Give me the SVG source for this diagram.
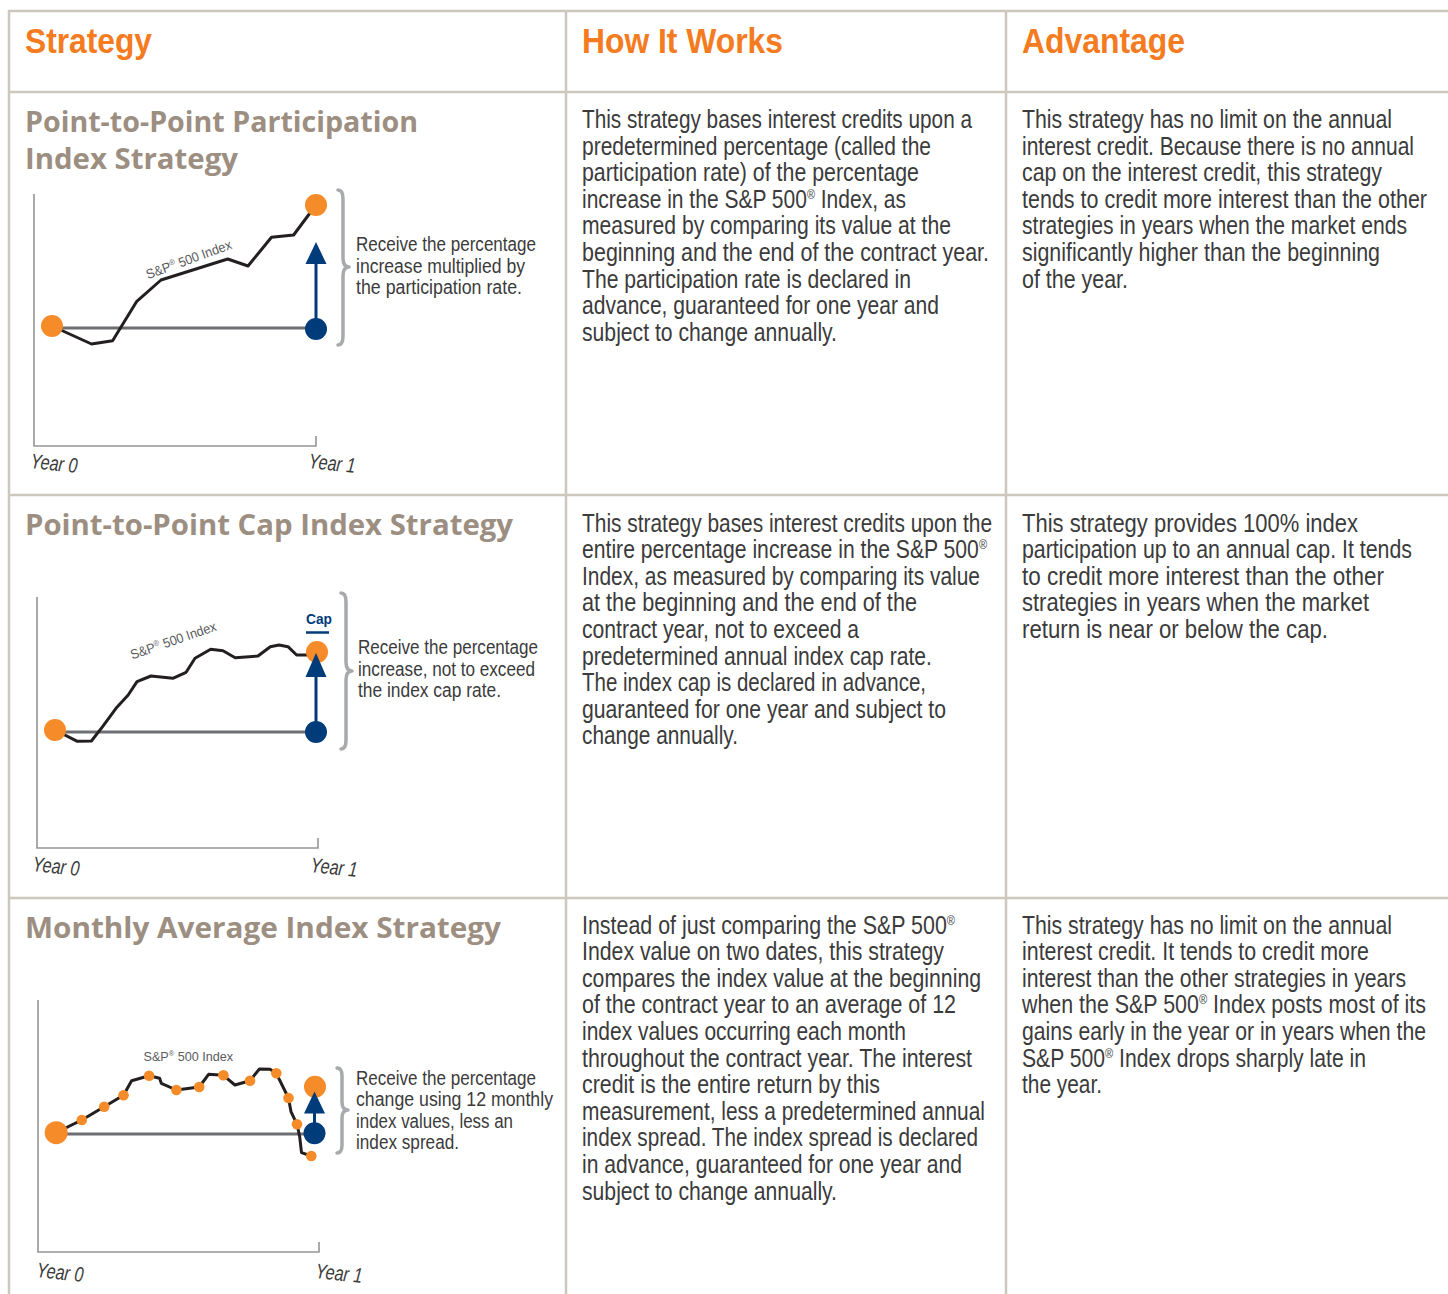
<svg xmlns="http://www.w3.org/2000/svg" width="1448" height="1294" viewBox="0 0 1448 1294">
<style>
.grid{stroke:#cec7bd;stroke-width:2.5;fill:none}
.hdr{font-family:"Liberation Sans",Arial,sans-serif;font-weight:bold;font-size:35px;fill:#f47b20}
.ttl{font-family:"Open Sans","Liberation Sans",sans-serif;font-weight:bold;font-size:28px;fill:#9c8e81}
.body{font-family:"Liberation Sans Narrow","Liberation Sans",Arial,sans-serif;font-size:25px;fill:#3b3b3b}
.note{font-family:"Liberation Sans Narrow","Liberation Sans",Arial,sans-serif;font-size:19.5px;fill:#3b3b3b}
.yr{font-family:"Liberation Sans Narrow","Liberation Sans",Arial,sans-serif;font-style:italic;font-size:21px;fill:#3b3b3b}
.sp{font-family:"Liberation Sans Narrow","Liberation Sans",Arial,sans-serif;font-size:13.5px;fill:#5a5b5d}
.cap{font-family:"Liberation Sans",Arial,sans-serif;font-weight:bold;font-size:15px;fill:#003b7a}
.axis{stroke:#939598;stroke-width:1.6;fill:none}
.base{stroke:#6d6e71;stroke-width:3;fill:none}
.idx{stroke:#231f20;stroke-width:3;fill:none;stroke-linejoin:round;stroke-linecap:round}
.brace{stroke:#a7a9ac;stroke-width:3.5;fill:none;stroke-linecap:round;stroke-linejoin:round}
.org{fill:#f68b29}
.blu{fill:#003b7a}
.arr{stroke:#003b7a;stroke-width:3;fill:none}
</style>

<g id="grid">
<line class="grid" x1="8" y1="11" x2="1448" y2="11"/>
<line class="grid" x1="8" y1="92" x2="1448" y2="92"/>
<line class="grid" x1="8" y1="495" x2="1448" y2="495"/>
<line class="grid" x1="8" y1="898" x2="1448" y2="898"/>
<line class="grid" x1="9" y1="10" x2="9" y2="1294"/>
<line class="grid" x1="566" y1="10" x2="566" y2="1294"/>
<line class="grid" x1="1006" y1="10" x2="1006" y2="1294"/>
</g>

<g id="header">
<text class="hdr" x="25" y="53" textLength="127" lengthAdjust="spacingAndGlyphs">Strategy</text>
<text class="hdr" x="582" y="53" textLength="201" lengthAdjust="spacingAndGlyphs">How It Works</text>
<text class="hdr" x="1022" y="53" textLength="163" lengthAdjust="spacingAndGlyphs">Advantage</text>
</g>

<g id="row1-strategy">
<text class="ttl" x="25" y="132" textLength="393" lengthAdjust="spacingAndGlyphs">Point-to-Point Participation</text>
<text class="ttl" x="25" y="169" textLength="213" lengthAdjust="spacingAndGlyphs">Index Strategy</text>
<path class="axis" d="M34,194 V446 H316 V436"/>
<line class="base" x1="52" y1="328" x2="316" y2="328"/>
<polyline class="idx" points="52,326 91.5,344 112.6,340.7 136.5,301.7 161,280 227.7,259 248,266 271.5,237.3 293.6,235 310,213"/>
<circle class="org" cx="52" cy="326" r="11"/>
<circle class="blu" cx="316" cy="329" r="11"/>
<circle class="org" cx="316" cy="205" r="11"/>
<line class="arr" x1="316" y1="329" x2="316" y2="262"/>
<polygon class="blu" points="316,242 305.5,264 326.5,264"/>
<text class="sp" x="189" y="264" text-anchor="middle" transform="rotate(-20 189 260)" textLength="90" lengthAdjust="spacingAndGlyphs">S&amp;P<tspan dy="-5" font-size="8">®</tspan><tspan dy="5"> 500 Index</tspan></text>
<path class="brace" d="M338,190 Q343,190 343,199 L343,258 Q343,267 349,267 Q343,267 343,276 L343,336 Q343,345 338,345"/>
<text class="note" x="356" y="251" textLength="180" lengthAdjust="spacingAndGlyphs">Receive the percentage</text>
<text class="note" x="356" y="273" textLength="169" lengthAdjust="spacingAndGlyphs">increase multiplied by</text>
<text class="note" x="356" y="294" textLength="166" lengthAdjust="spacingAndGlyphs">the participation rate.</text>
<text class="yr" x="30" y="468" transform="rotate(6 30 468)" textLength="47" lengthAdjust="spacingAndGlyphs">Year 0</text>
<text class="yr" x="308" y="468" transform="rotate(6 308 468)" textLength="47" lengthAdjust="spacingAndGlyphs">Year 1</text>
</g>

<g id="row1-how">
<text class="body" x="582" y="128" textLength="390" lengthAdjust="spacingAndGlyphs">This strategy bases interest credits upon a</text>
<text class="body" x="582" y="154.6" textLength="349" lengthAdjust="spacingAndGlyphs">predetermined percentage (called the</text>
<text class="body" x="582" y="181.2" textLength="337" lengthAdjust="spacingAndGlyphs">participation rate) of the percentage</text>
<text class="body" x="582" y="207.8" textLength="324" lengthAdjust="spacingAndGlyphs">increase in the S&amp;P 500<tspan dy="-9" font-size="13">®</tspan><tspan dy="9"> Index, as</tspan></text>
<text class="body" x="582" y="234.4" textLength="369" lengthAdjust="spacingAndGlyphs">measured by comparing its value at the</text>
<text class="body" x="582" y="261" textLength="407" lengthAdjust="spacingAndGlyphs">beginning and the end of the contract year.</text>
<text class="body" x="582" y="287.6" textLength="329" lengthAdjust="spacingAndGlyphs">The participation rate is declared in</text>
<text class="body" x="582" y="314.2" textLength="357" lengthAdjust="spacingAndGlyphs">advance, guaranteed for one year and</text>
<text class="body" x="582" y="340.8" textLength="255" lengthAdjust="spacingAndGlyphs">subject to change annually.</text>
</g>

<g id="row1-advantage">
<text class="body" x="1022" y="128" textLength="370" lengthAdjust="spacingAndGlyphs">This strategy has no limit on the annual</text>
<text class="body" x="1022" y="154.6" textLength="392" lengthAdjust="spacingAndGlyphs">interest credit. Because there is no annual</text>
<text class="body" x="1022" y="181.2" textLength="360" lengthAdjust="spacingAndGlyphs">cap on the interest credit, this strategy</text>
<text class="body" x="1022" y="207.8" textLength="405" lengthAdjust="spacingAndGlyphs">tends to credit more interest than the other</text>
<text class="body" x="1022" y="234.4" textLength="385" lengthAdjust="spacingAndGlyphs">strategies in years when the market ends</text>
<text class="body" x="1022" y="261" textLength="358" lengthAdjust="spacingAndGlyphs">significantly higher than the beginning</text>
<text class="body" x="1022" y="287.6" textLength="106" lengthAdjust="spacingAndGlyphs">of the year.</text>
</g>

<g id="row2-strategy">
<text class="ttl" x="25" y="535" textLength="488" lengthAdjust="spacingAndGlyphs">Point-to-Point Cap Index Strategy</text>
<path class="axis" d="M37,597 V848 H318 V838"/>
<line class="base" x1="55" y1="732" x2="316" y2="732"/>
<polyline class="idx" points="55,730 77.4,741.3 91.4,741 102.6,726.7 116,708.3 128.2,695 137,681.7 151,676 172.8,678.3 186.1,672.3 195,658.3 210.7,649.3 223,650.7 235.2,657.7 258,656 270.3,646.7 279,645 288,646.7 296.6,655 307.2,655"/>
<circle class="org" cx="55" cy="730" r="11"/>
<circle class="blu" cx="316" cy="732" r="11"/>
<circle class="org" cx="317" cy="652" r="11"/>
<line class="arr" x1="316" y1="732" x2="316" y2="675"/>
<polygon class="blu" points="316,653 305.5,677 326.5,677"/>
<text class="cap" x="319" y="624" text-anchor="middle" textLength="26" lengthAdjust="spacingAndGlyphs">Cap</text>
<line x1="306" y1="632.5" x2="329" y2="632.5" stroke="#003b7a" stroke-width="2.5"/>
<text class="sp" x="173.5" y="645" text-anchor="middle" transform="rotate(-19 173.5 641)" textLength="90" lengthAdjust="spacingAndGlyphs">S&amp;P<tspan dy="-5" font-size="8">®</tspan><tspan dy="5"> 500 Index</tspan></text>
<path class="brace" d="M341,593 Q346,593 346,602 L346,662 Q346,671 352,671 Q346,671 346,680 L346,740 Q346,749 341,749"/>
<text class="note" x="358" y="654" textLength="180" lengthAdjust="spacingAndGlyphs">Receive the percentage</text>
<text class="note" x="358" y="676" textLength="177" lengthAdjust="spacingAndGlyphs">increase, not to exceed</text>
<text class="note" x="358" y="697" textLength="143" lengthAdjust="spacingAndGlyphs">the index cap rate.</text>
<text class="yr" x="32" y="871" transform="rotate(6 32 871)" textLength="47" lengthAdjust="spacingAndGlyphs">Year 0</text>
<text class="yr" x="310" y="872" transform="rotate(6 310 872)" textLength="47" lengthAdjust="spacingAndGlyphs">Year 1</text>
</g>

<g id="row2-how">
<text class="body" x="582" y="531.5" textLength="410" lengthAdjust="spacingAndGlyphs">This strategy bases interest credits upon the</text>
<text class="body" x="582" y="558.1" textLength="405" lengthAdjust="spacingAndGlyphs">entire percentage increase in the S&amp;P 500<tspan dy="-9" font-size="13">®</tspan></text>
<text class="body" x="582" y="584.7" textLength="398" lengthAdjust="spacingAndGlyphs">Index, as measured by comparing its value</text>
<text class="body" x="582" y="611.3" textLength="335" lengthAdjust="spacingAndGlyphs">at the beginning and the end of the</text>
<text class="body" x="582" y="637.9" textLength="277" lengthAdjust="spacingAndGlyphs">contract year, not to exceed a</text>
<text class="body" x="582" y="664.5" textLength="350" lengthAdjust="spacingAndGlyphs">predetermined annual index cap rate.</text>
<text class="body" x="582" y="691.1" textLength="344" lengthAdjust="spacingAndGlyphs">The index cap is declared in advance,</text>
<text class="body" x="582" y="717.7" textLength="364" lengthAdjust="spacingAndGlyphs">guaranteed for one year and subject to</text>
<text class="body" x="582" y="744.3" textLength="156" lengthAdjust="spacingAndGlyphs">change annually.</text>
</g>

<g id="row2-advantage">
<text class="body" x="1022" y="531.5" textLength="336" lengthAdjust="spacingAndGlyphs">This strategy provides 100% index</text>
<text class="body" x="1022" y="558.1" textLength="390" lengthAdjust="spacingAndGlyphs">participation up to an annual cap. It tends</text>
<text class="body" x="1022" y="584.7" textLength="362" lengthAdjust="spacingAndGlyphs">to credit more interest than the other</text>
<text class="body" x="1022" y="611.3" textLength="347" lengthAdjust="spacingAndGlyphs">strategies in years when the market</text>
<text class="body" x="1022" y="637.9" textLength="306" lengthAdjust="spacingAndGlyphs">return is near or below the cap.</text>
</g>

<g id="row3-strategy">
<text class="ttl" x="25" y="938" textLength="476" lengthAdjust="spacingAndGlyphs">Monthly Average Index Strategy</text>
<path class="axis" d="M38,1000 V1252 H319 V1242"/>
<line class="base" x1="56" y1="1134" x2="314.5" y2="1134"/>
<polyline class="idx" points="56.2,1132.7 81.8,1120 104.2,1106.7 123.5,1095.3 131.6,1080.7 149.1,1075.7 159.6,1078.3 161.3,1083.3 176.4,1090 199.2,1087 208.6,1074.3 223.4,1075.3 234.9,1085 250,1080.7 259.4,1069 270,1069.3 276.3,1073.3 288.5,1098 291,1111.7 297,1124.3 299.7,1136.7 301.5,1152.7 311.3,1156"/>
<circle class="org" cx="56.2" cy="1132.7" r="11.5"/>
<circle class="org" cx="81.8" cy="1120" r="5.3"/>
<circle class="org" cx="104.2" cy="1106.7" r="5.3"/>
<circle class="org" cx="123.5" cy="1095.3" r="5.3"/>
<circle class="org" cx="149.1" cy="1075.7" r="5.3"/>
<circle class="org" cx="176.4" cy="1090" r="5.3"/>
<circle class="org" cx="199.2" cy="1087" r="5.3"/>
<circle class="org" cx="223.4" cy="1075.3" r="5.3"/>
<circle class="org" cx="250" cy="1080.7" r="5.3"/>
<circle class="org" cx="276.3" cy="1073.3" r="5.3"/>
<circle class="org" cx="288.5" cy="1098" r="5.3"/>
<circle class="org" cx="297" cy="1124.3" r="5.3"/>
<circle class="org" cx="311.3" cy="1156" r="5.3"/>
<circle class="blu" cx="314.5" cy="1133.3" r="11"/>
<circle class="org" cx="315" cy="1086.7" r="11"/>
<line class="arr" x1="314.5" y1="1133" x2="314.5" y2="1111"/>
<polygon class="blu" points="314.5,1091.5 304,1113.5 325,1113.5"/>
<text class="sp" x="143.5" y="1061" textLength="89.5" lengthAdjust="spacingAndGlyphs">S&amp;P<tspan dy="-5" font-size="8">®</tspan><tspan dy="5"> 500 Index</tspan></text>
<path class="brace" d="M337,1068 Q342,1068 342,1076 L342,1102 Q342,1110 348,1110 Q342,1110 342,1118 L342,1145 Q342,1153 337,1153"/>
<text class="note" x="356" y="1085" textLength="180" lengthAdjust="spacingAndGlyphs">Receive the percentage</text>
<text class="note" x="356" y="1106" textLength="197" lengthAdjust="spacingAndGlyphs">change using 12 monthly</text>
<text class="note" x="356" y="1128" textLength="157" lengthAdjust="spacingAndGlyphs">index values, less an</text>
<text class="note" x="356" y="1149" textLength="103" lengthAdjust="spacingAndGlyphs">index spread.</text>
<text class="yr" x="36" y="1277" transform="rotate(6 36 1277)" textLength="47" lengthAdjust="spacingAndGlyphs">Year 0</text>
<text class="yr" x="315" y="1278" transform="rotate(6 315 1278)" textLength="47" lengthAdjust="spacingAndGlyphs">Year 1</text>
</g>

<g id="row3-how">
<text class="body" x="582" y="933.5" textLength="373" lengthAdjust="spacingAndGlyphs">Instead of just comparing the S&amp;P 500<tspan dy="-9" font-size="13">®</tspan></text>
<text class="body" x="582" y="960.1" textLength="362" lengthAdjust="spacingAndGlyphs">Index value on two dates, this strategy</text>
<text class="body" x="582" y="986.7" textLength="399" lengthAdjust="spacingAndGlyphs">compares the index value at the beginning</text>
<text class="body" x="582" y="1013.3" textLength="374" lengthAdjust="spacingAndGlyphs">of the contract year to an average of 12</text>
<text class="body" x="582" y="1039.9" textLength="324" lengthAdjust="spacingAndGlyphs">index values occurring each month</text>
<text class="body" x="582" y="1066.5" textLength="390" lengthAdjust="spacingAndGlyphs">throughout the contract year. The interest</text>
<text class="body" x="582" y="1093.1" textLength="298" lengthAdjust="spacingAndGlyphs">credit is the entire return by this</text>
<text class="body" x="582" y="1119.7" textLength="403" lengthAdjust="spacingAndGlyphs">measurement, less a predetermined annual</text>
<text class="body" x="582" y="1146.3" textLength="396" lengthAdjust="spacingAndGlyphs">index spread. The index spread is declared</text>
<text class="body" x="582" y="1172.9" textLength="380" lengthAdjust="spacingAndGlyphs">in advance, guaranteed for one year and</text>
<text class="body" x="582" y="1199.5" textLength="255" lengthAdjust="spacingAndGlyphs">subject to change annually.</text>
</g>

<g id="row3-advantage">
<text class="body" x="1022" y="933.5" textLength="370" lengthAdjust="spacingAndGlyphs">This strategy has no limit on the annual</text>
<text class="body" x="1022" y="960.1" textLength="347" lengthAdjust="spacingAndGlyphs">interest credit. It tends to credit more</text>
<text class="body" x="1022" y="986.7" textLength="384" lengthAdjust="spacingAndGlyphs">interest than the other strategies in years</text>
<text class="body" x="1022" y="1013.3" textLength="404" lengthAdjust="spacingAndGlyphs">when the S&amp;P 500<tspan dy="-9" font-size="13">®</tspan><tspan dy="9"> Index posts most of its</tspan></text>
<text class="body" x="1022" y="1039.9" textLength="404" lengthAdjust="spacingAndGlyphs">gains early in the year or in years when the</text>
<text class="body" x="1022" y="1066.5" textLength="344" lengthAdjust="spacingAndGlyphs">S&amp;P 500<tspan dy="-9" font-size="13">®</tspan><tspan dy="9"> Index drops sharply late in</tspan></text>
<text class="body" x="1022" y="1093.1" textLength="80" lengthAdjust="spacingAndGlyphs">the year.</text>
</g>
</svg>
